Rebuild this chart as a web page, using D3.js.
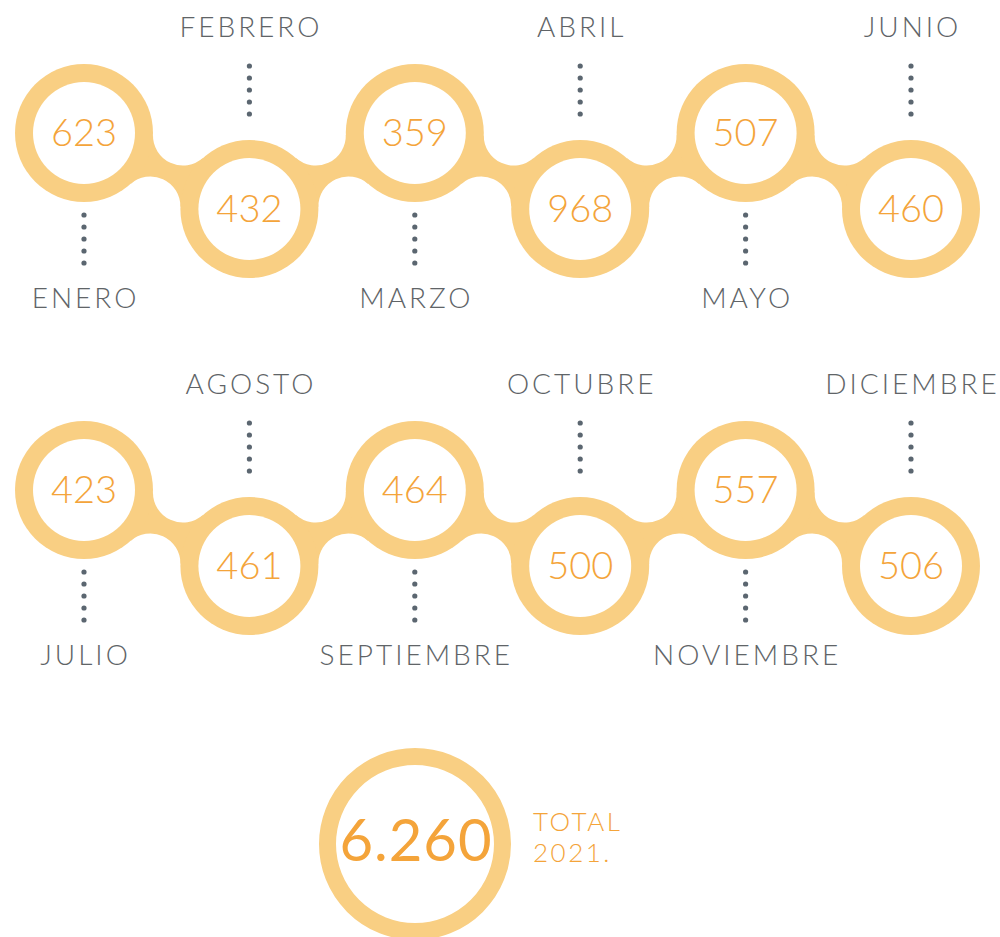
<!DOCTYPE html>
<html>
<head>
<meta charset="utf-8">
<script src="https://cdn.jsdelivr.net/npm/d3@7"></script>
<style>
  body { margin: 0; background: #fff; }
  text { font-family: "Lato", "Open Sans", sans-serif; }
</style>
</head>
<body>
<script>
// data
var months = ["ENERO", "FEBRERO", "MARZO", "ABRIL", "MAYO", "JUNIO",
              "JULIO", "AGOSTO", "SEPTIEMBRE", "OCTUBRE", "NOVIEMBRE", "DICIEMBRE"];
var values = [623, 432, 359, 968, 507, 460, 423, 461, 464, 500, 557, 506];
var totalValue = "6.260";
var totalLabel = ["TOTAL", "2021."];

var width = 1000,
    height = 937,
    perRow = 6,
    outerR = 69,
    innerR = 51,
    filletR = 30,
    drop = 76,
    ringColor = "#f9cf83",
    numColor = "#f4a43a",
    greyColor = "#606467",
    dotColor = "#5b6670",
    labelSpacing = 3;

var xScale = d3.scalePoint().domain(d3.range(perRow)).range([84, 911]);
var rowScale = d3.scaleOrdinal().domain([0, 1]).range([133, 490]);

var nodes = values.map(function (v, i) {
    var col = i % perRow, row = Math.floor(i / perRow), up = col % 2 === 0;
    return {
        value: v, month: months[i], row: row, up: up,
        x: xScale(col),
        y: rowScale(row) + (up ? 0 : drop)
    };
});

var svg = d3.select("body").append("svg")
    .attr("width", width)
    .attr("height", height);

// band between two circles with concave fillets
function bridge(a, b) {
    var dx = b.x - a.x, dy = b.y - a.y, d = Math.sqrt(dx * dx + dy * dy);
    var mx = (a.x + b.x) / 2, my = (a.y + b.y) / 2;
    var nx = -dy / d, ny = dx / d;
    var h = Math.sqrt(Math.pow(outerR + filletR, 2) - d * d / 4);
    var p = d3.path();
    [1, -1].forEach(function (s, k) {
        var cx = mx + s * nx * h, cy = my + s * ny * h;
        var ends = k === 0 ? [a, b] : [b, a];
        var t = ends.map(function (c) {
            var f = outerR / (outerR + filletR);
            return [c.x + (cx - c.x) * f, c.y + (cy - c.y) * f];
        });
        var a1 = Math.atan2(t[0][1] - cy, t[0][0] - cx),
            a2 = Math.atan2(t[1][1] - cy, t[1][0] - cx),
            am = Math.atan2(my - cy, mx - cx);
        var tau = 2 * Math.PI;
        var delta = ((a2 - a1) % tau + tau) % tau,
            dm = ((am - a1) % tau + tau) % tau;
        if (k === 0) p.moveTo(t[0][0], t[0][1]);
        else p.lineTo(t[0][0], t[0][1]);
        p.arc(cx, cy, filletR, a1, a2, !(dm < delta));
    });
    p.closePath();
    return p.toString();
}

d3.range(2).forEach(function (r) {
    var rowNodes = nodes.filter(function (d) { return d.row === r; });
    var g = svg.append("g");
    g.selectAll("path")
        .data(d3.pairs(rowNodes))
        .enter().append("path")
        .attr("d", function (d) { return bridge(d[0], d[1]); })
        .attr("fill", ringColor);
    g.selectAll("circle")
        .data(rowNodes)
        .enter().append("circle")
        .attr("cx", function (d) { return d.x; })
        .attr("cy", function (d) { return d.y; })
        .attr("r", outerR)
        .attr("fill", ringColor);
});

var groups = svg.selectAll(".node")
    .data(nodes)
    .enter().append("g")
    .attr("class", "node")
    .attr("transform", function (d) { return "translate(" + [d.x, d.y] + ")"; });

groups.append("circle")
    .attr("r", innerR)
    .attr("fill", "#fff");

groups.append("text")
    .attr("text-anchor", "middle")
    .attr("dy", "0.35em")
    .attr("font-size", 38)
    .attr("font-weight", 300)
    .attr("fill", numColor)
    .text(function (d) { return d.value; });

// dotted leaders
groups.selectAll(".dot")
    .data(function (d) {
        return d3.range(5).map(function (k) {
            return d.up ? 82 + k * 12 : -143 + k * 12;
        });
    })
    .enter().append("circle")
    .attr("class", "dot")
    .attr("cy", function (d) { return d; })
    .attr("r", 2.6)
    .attr("fill", dotColor);

groups.append("text")
    .attr("text-anchor", "middle")
    .attr("x", labelSpacing / 2)
    .attr("y", function (d) { return d.up ? 165 : -182; })
    .attr("dy", "0.35em")
    .attr("font-size", 28)
    .attr("font-weight", 300)
    .attr("letter-spacing", labelSpacing)
    .attr("fill", greyColor)
    .text(function (d) { return d.month; });

// total
var total = svg.append("g").attr("transform", "translate(415,844)");
total.append("circle")
    .attr("r", 87.5)
    .attr("fill", "none")
    .attr("stroke", ringColor)
    .attr("stroke-width", 17);
total.append("text")
    .attr("text-anchor", "middle")
    .attr("x", 1)
    .attr("y", -3)
    .attr("dy", "0.35em")
    .attr("font-size", 58)
    .attr("font-weight", 400)
    .attr("letter-spacing", 1)
    .attr("fill", numColor)
    .text(totalValue);

svg.selectAll(".total-label")
    .data(totalLabel)
    .enter().append("text")
    .attr("class", "total-label")
    .attr("x", 533)
    .attr("y", function (d, i) { return 831 + i * 31; })
    .attr("font-size", 26)
    .attr("font-weight", 300)
    .attr("letter-spacing", 2.5)
    .attr("fill", numColor)
    .text(function (d) { return d; });
</script>
</body>
</html>
